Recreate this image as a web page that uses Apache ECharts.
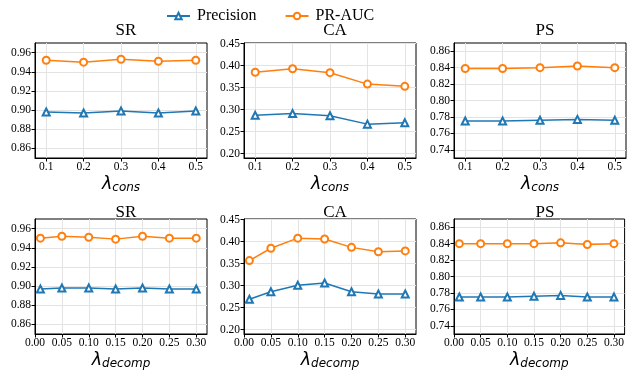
<!DOCTYPE html>
<html>
<head>
<meta charset="utf-8">
<script src="https://cdn.jsdelivr.net/npm/echarts@6/dist/echarts.min.js"></script>
<style>
  html, body { margin: 0; padding: 0; background: #fff; }
  #chart { width: 627px; height: 371px; }
</style>
</head>
<body>
<div id="chart"></div>
<script>
// x values
const consX = [0.1, 0.2, 0.3, 0.4, 0.5];
const decompX = [0.01, 0.05, 0.10, 0.15, 0.20, 0.25, 0.30];

// tick labels
const consTicks = [0.1, 0.2, 0.3, 0.4, 0.5];
const decompTicks = [0.00, 0.05, 0.10, 0.15, 0.20, 0.25, 0.30];
const srTicks = [0.86, 0.88, 0.90, 0.92, 0.94, 0.96];
const caTicks = [0.20, 0.25, 0.30, 0.35, 0.40, 0.45];
const psTicks = [0.74, 0.76, 0.78, 0.80, 0.82, 0.84, 0.86];

// lambda_cons
const srConsPrec = [0.898, 0.897, 0.899, 0.897, 0.899];
const srConsAuc = [0.952, 0.950, 0.953, 0.951, 0.952];
const caConsPrec = [0.287, 0.291, 0.286, 0.267, 0.270];
const caConsAuc = [0.385, 0.393, 0.384, 0.358, 0.353];
const psConsPrec = [0.775, 0.775, 0.776, 0.777, 0.776];
const psConsAuc = [0.839, 0.839, 0.840, 0.842, 0.840];

// lambda_decomp
const srDecPrec = [0.897, 0.898, 0.898, 0.897, 0.898, 0.897, 0.897];
const srDecAuc = [0.950, 0.952, 0.951, 0.949, 0.952, 0.950, 0.950];
const caDecPrec = [0.269, 0.286, 0.301, 0.306, 0.286, 0.281, 0.281];
const caDecAuc = [0.357, 0.385, 0.408, 0.406, 0.387, 0.377, 0.379];
const psDecPrec = [0.775, 0.775, 0.775, 0.776, 0.777, 0.775, 0.775];
const psDecAuc = [0.840, 0.840, 0.840, 0.840, 0.841, 0.839, 0.840];

const serif = "Liberation Serif";
const blue = "#1f77b4";
const orange = "#ff7f0e";

const cols = [35, 244, 454];
const rows = [43, 219];
const titleTops = [17, 199];
const plotW = 172, plotH = 115;

const panels = [
  { title: "SR", xs: consX, xt: consTicks, xr: [0.07, 0.53], yt: srTicks, yr: [0.85, 0.97], p: srConsPrec, a: srConsAuc, sub: "cons", dec: 1 },
  { title: "CA", xs: consX, xt: consTicks, xr: [0.07, 0.53], yt: caTicks, yr: [0.19, 0.4515], p: caConsPrec, a: caConsAuc, sub: "cons", dec: 1 },
  { title: "PS", xs: consX, xt: consTicks, xr: [0.07, 0.53], yt: psTicks, yr: [0.73, 0.87], p: psConsPrec, a: psConsAuc, sub: "cons", dec: 1 },
  { title: "SR", xs: decompX, xt: decompTicks, xr: [0, 0.32], yt: srTicks, yr: [0.85, 0.97], p: srDecPrec, a: srDecAuc, sub: "decomp", dec: 2 },
  { title: "CA", xs: decompX, xt: decompTicks, xr: [0, 0.32], yt: caTicks, yr: [0.19, 0.4515], p: caDecPrec, a: caDecAuc, sub: "decomp", dec: 2 },
  { title: "PS", xs: decompX, xt: decompTicks, xr: [0, 0.32], yt: psTicks, yr: [0.73, 0.87], p: psDecPrec, a: psDecAuc, sub: "decomp", dec: 2 }
];

const grids = [], xAxes = [], yAxes = [], titles = [], series = [];

panels.forEach((pn, i) => {
  const row = Math.floor(i / 3);
  const left = cols[i % 3];
  const top = rows[row];
  grids.push({
    left: left, top: top, width: plotW, height: row ? plotH + 1 : plotH,
    show: true, borderColor: "#000", borderWidth: 1, backgroundColor: "#fff"
  });
  titles.push({
    text: pn.title,
    left: left + plotW / 2,
    top: titleTops[row],
    textAlign: "center",
    textStyle: { fontFamily: serif, fontSize: 17, fontWeight: "normal", color: "#000" }
  });
  xAxes.push({
    gridIndex: i, type: "value", min: pn.xr[0], max: pn.xr[1],
    axisLine: { show: true, lineStyle: { color: "#000", width: 1 } },
    axisTick: { show: true, length: 3.5, customValues: pn.xt, lineStyle: { color: "#000" } },
    axisLabel: {
      customValues: pn.xt, margin: 3, color: "#000",
      fontFamily: serif, fontSize: 11.5,
      formatter: (v) => v.toFixed(pn.dec)
    },
    splitLine: { show: true, lineStyle: { color: "#e3e3e3", width: 1 } },
    name: "{l|λ}{s|" + pn.sub + "}",
    nameLocation: "middle",
    nameGap: 17,
    nameTextStyle: {
      rich: {
        l: { fontFamily: "DejaVu Sans", fontStyle: "italic", fontSize: 17.5, color: "#000", verticalAlign: "top", lineHeight: 19 },
        s: { fontFamily: "DejaVu Sans", fontStyle: "italic", fontSize: 12, color: "#000", verticalAlign: "bottom", lineHeight: 13, padding: [8, 0, 0, 0] }
      }
    }
  });
  yAxes.push({
    gridIndex: i, type: "value", min: pn.yr[0], max: pn.yr[1],
    axisLine: { show: true, lineStyle: { color: "#000", width: 1 } },
    axisTick: { show: true, length: 3.5, customValues: pn.yt, lineStyle: { color: "#000" } },
    axisLabel: {
      customValues: pn.yt, margin: 4, color: "#000",
      fontFamily: serif, fontSize: 11.5,
      formatter: (v) => v.toFixed(2)
    },
    splitLine: { show: true, lineStyle: { color: "#e3e3e3", width: 1 } }
  });
  series.push({
    name: "Precision", type: "line", xAxisIndex: i, yAxisIndex: i,
    data: pn.xs.map((x, k) => [x, pn.p[k]]),
    symbol: "emptyTriangle", symbolSize: 7, showSymbol: true,
    lineStyle: { color: blue, width: 1.5 },
    itemStyle: { color: blue, borderColor: blue, borderWidth: 1.5 },
    animation: false
  });
  series.push({
    name: "PR-AUC", type: "line", xAxisIndex: i, yAxisIndex: i,
    data: pn.xs.map((x, k) => [x, pn.a[k]]),
    symbol: "emptyCircle", symbolSize: 7, showSymbol: true,
    lineStyle: { color: orange, width: 1.5 },
    itemStyle: { color: orange, borderColor: orange, borderWidth: 1.5 },
    animation: false
  });
});

const chart = echarts.init(document.getElementById("chart"));
chart.setOption({
  animation: false,
  color: [blue, orange],
  title: titles,
  legend: {
    data: ["Precision", "PR-AUC"],
    left: 161, top: 3,
    itemWidth: 23, itemHeight: 8, itemGap: 28,
    textStyle: { fontFamily: serif, fontSize: 16, color: "#000", padding: [0, 0, 0, 2] }
  },
  grid: grids,
  xAxis: xAxes,
  yAxis: yAxes,
  series: series
});
</script>
</body>
</html>
